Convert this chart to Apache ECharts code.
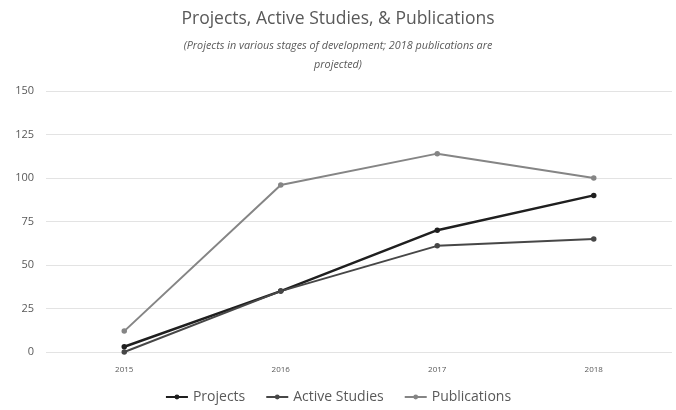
<!DOCTYPE html>
<html>
<head>
<meta charset="utf-8">
<script src="https://cdn.jsdelivr.net/npm/echarts@6/dist/echarts.min.js"></script>
<style>
  html, body { margin: 0; padding: 0; background: #fff; }
  #chart { width: 676px; height: 410px; }
</style>
</head>
<body>
<div id="chart"></div>
<script>
// Yearly counts for the program
const years = ['2015', '2016', '2017', '2018'];
const projects = [3, 35, 70, 90];
const activeStudies = [0, 35, 61, 65];
const publications = [12, 96, 114, 100];
const yTicks = [0, 25, 50, 75, 100, 125, 150];

const chart = echarts.init(document.getElementById('chart'));
const textGray = '#595959';

function lineSeries(name, data, color, width) {
  return {
    name: name,
    type: 'line',
    data: data,
    symbol: 'circle',
    symbolSize: 5.5,
    lineStyle: { color: color, width: width },
    itemStyle: { color: color },
    animation: false
  };
}

chart.setOption({
  backgroundColor: '#fff',
  title: {
    text: 'Projects, Active Studies, & Publications',
    subtext: '(Projects in various stages of development; 2018 publications are\nprojected)',
    left: 'center',
    top: 5,
    itemGap: 8,
    textStyle: { color: textGray, fontFamily: 'Open Sans', fontSize: 17.5, fontWeight: 'normal' },
    subtextStyle: { color: textGray, fontFamily: 'Open Sans', fontSize: 10.8, fontStyle: 'italic', lineHeight: 19 }
  },
  legend: {
    bottom: 1,
    left: 'center',
    itemWidth: 22,
    itemHeight: 6,
    itemGap: 20,
    textStyle: { color: textGray, fontFamily: 'Open Sans', fontSize: 14 },
    data: ['Projects', 'Active Studies', 'Publications']
  },
  grid: { left: 46, right: 4, top: 91, bottom: 58 },
  xAxis: {
    type: 'category',
    data: years,
    boundaryGap: true,
    axisLine: { show: false },
    axisTick: { show: false },
    axisLabel: { color: textGray, fontFamily: 'Open Sans', fontSize: 8, margin: 14 }
  },
  yAxis: {
    type: 'value',
    min: yTicks[0],
    max: yTicks[yTicks.length - 1],
    interval: yTicks[1] - yTicks[0],
    axisLine: { show: false },
    axisTick: { show: false },
    axisLabel: { color: textGray, fontFamily: 'Open Sans', fontSize: 11, margin: 12 },
    splitLine: { lineStyle: { color: '#e3e3e3', width: 1 } }
  },
  series: [
    lineSeries('Projects', projects, '#1f1f1f', 2.5),
    lineSeries('Active Studies', activeStudies, '#474747', 2),
    lineSeries('Publications', publications, '#858585', 2)
  ]
});
</script>
</body>
</html>
